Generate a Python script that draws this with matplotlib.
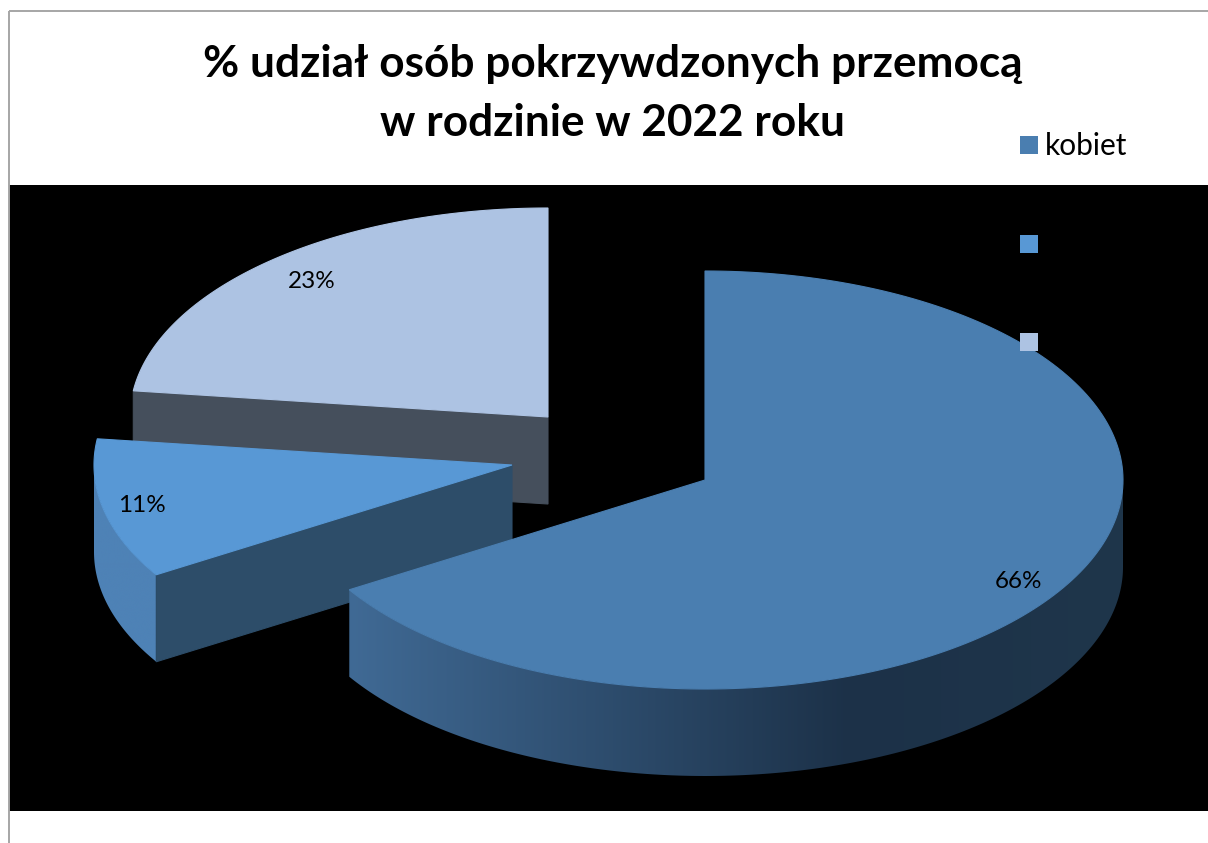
import numpy as np
import matplotlib.pyplot as plt
from matplotlib.patches import Polygon, Rectangle
from matplotlib.colors import to_rgb

plt.rcParams['font.family'] = ['Lato', 'DejaVu Sans']

# Data
title_lines = ['% udział osób pokrzywdzonych przemocą', 'w rodzinie w 2022 roku']
labels = ['kobiet', '', '']
shares = [66.2, 10.8, 23.0]
share_labels = ['66%', '11%', '23%']
colors = ['#4a7eb0', '#5898d5', '#adc3e3']

# layout, in picture pixels
W, H = 1208, 843
RX, RY = 418, 209
DEPTH = 87
apex = [(705, 480), (512, 465), (548, 417)]
label_pos = [(1019, 581), (142, 506), (312, 281)]
legend_y = [145, 244, 342]

fig = plt.figure(figsize=(W / 100, H / 100), dpi=100)
ax = fig.add_axes([0, 0, 1, 1])

# frame and black plot area
ax.plot([9, 9], [H, 11], color='#a6a6a6', lw=1.4, solid_capstyle='butt')
ax.plot([9, W], [11, 11], color='#a6a6a6', lw=1.4, solid_capstyle='butt')
ax.add_patch(Rectangle((9, 185), W - 9, 626, color='black', lw=0, zorder=1))


def ellipse_pt(c, t):
    # t in degrees clockwise from 12 o'clock
    t = np.radians(t)
    return c[0] + RX * np.sin(t), c[1] - RY * np.cos(t)


def lerp(a, b, f):
    a, b = np.array(to_rgb(a)), np.array(to_rgb(b))
    return a + (b - a) * f


def rim(c, t0, t1, col_fn):
    # outer side of a slice: horizontal gradient clipped to the rim shape
    ts = np.linspace(t0, t1, 300)
    pts = [ellipse_pt(c, t) for t in ts]
    pts = pts + [(x, y + DEPTH) for x, y in pts[::-1]]
    shape = Polygon(pts, closed=True, color='none', lw=0, zorder=1)
    ax.add_patch(shape)
    xs = [p[0] for p in pts]
    ys = [p[1] for p in pts]
    x0, x1 = min(xs), max(xs)
    grid = np.linspace(x0, x1, 600)
    img = np.array([[col_fn(x) for x in grid]])
    im = ax.imshow(img, extent=(x0, x1, max(ys), min(ys)), aspect='auto', zorder=1)
    im.set_clip_path(shape)


def cut_face(c, t, color):
    x, y = ellipse_pt(c, t)
    ax.add_patch(Polygon([c, (x, y), (x, y + DEPTH), (c[0], c[1] + DEPTH)],
                         closed=True, fc=color, ec=color, lw=0.8, zorder=1))


def top(c, t0, t1, color):
    ts = np.linspace(t0, t1, 200)
    pts = [c] + [ellipse_pt(c, t) for t in ts]
    ax.add_patch(Polygon(pts, closed=True, fc=color, ec=color, lw=0.8, zorder=1))


def main_rim_color(x):
    if x < 850:
        return lerp('#406a95', '#1c3148', (x - 349) / (850 - 349))
    return lerp('#1c3148', '#1f364b', (x - 850) / (1123 - 850))


def small_rim_color(x):
    return lerp('#4e82b6', '#4e82b6', 0)


angles = np.cumsum([0] + shares) / sum(shares) * 360

# back slice first, big one last
cut_face(apex[2], angles[2], '#454f5c')
top(apex[2], angles[2], angles[3], colors[2])

rim(apex[1], angles[1], 270, small_rim_color)
cut_face(apex[1], angles[1], '#2d4d69')
top(apex[1], angles[1], angles[2], colors[1])

rim(apex[0], 90, angles[1], main_rim_color)
top(apex[0], angles[0], angles[1], colors[0])

for pos, txt in zip(label_pos, share_labels):
    ax.text(pos[0], pos[1], txt, fontsize=17.5, color='black', ha='center', va='center', zorder=10)

# title
ax.text(613, 64, title_lines[0], fontsize=31.8, fontweight='bold', ha='center', va='center', zorder=10)
ax.text(613, 123, title_lines[1], fontsize=31.8, fontweight='bold', ha='center', va='center', zorder=10)

# legend
for y, col, lab in zip(legend_y, colors, labels):
    ax.add_patch(Rectangle((1020, y - 9), 18, 18, color=col, lw=0, zorder=9))
    if lab:
        ax.text(1045, y + 1, lab, fontsize=21.5, ha='left', va='center', zorder=10)

ax.set_xlim(0, W)
ax.set_ylim(H, 0)
ax.axis('off')

fig.savefig('out.png', dpi=100)
